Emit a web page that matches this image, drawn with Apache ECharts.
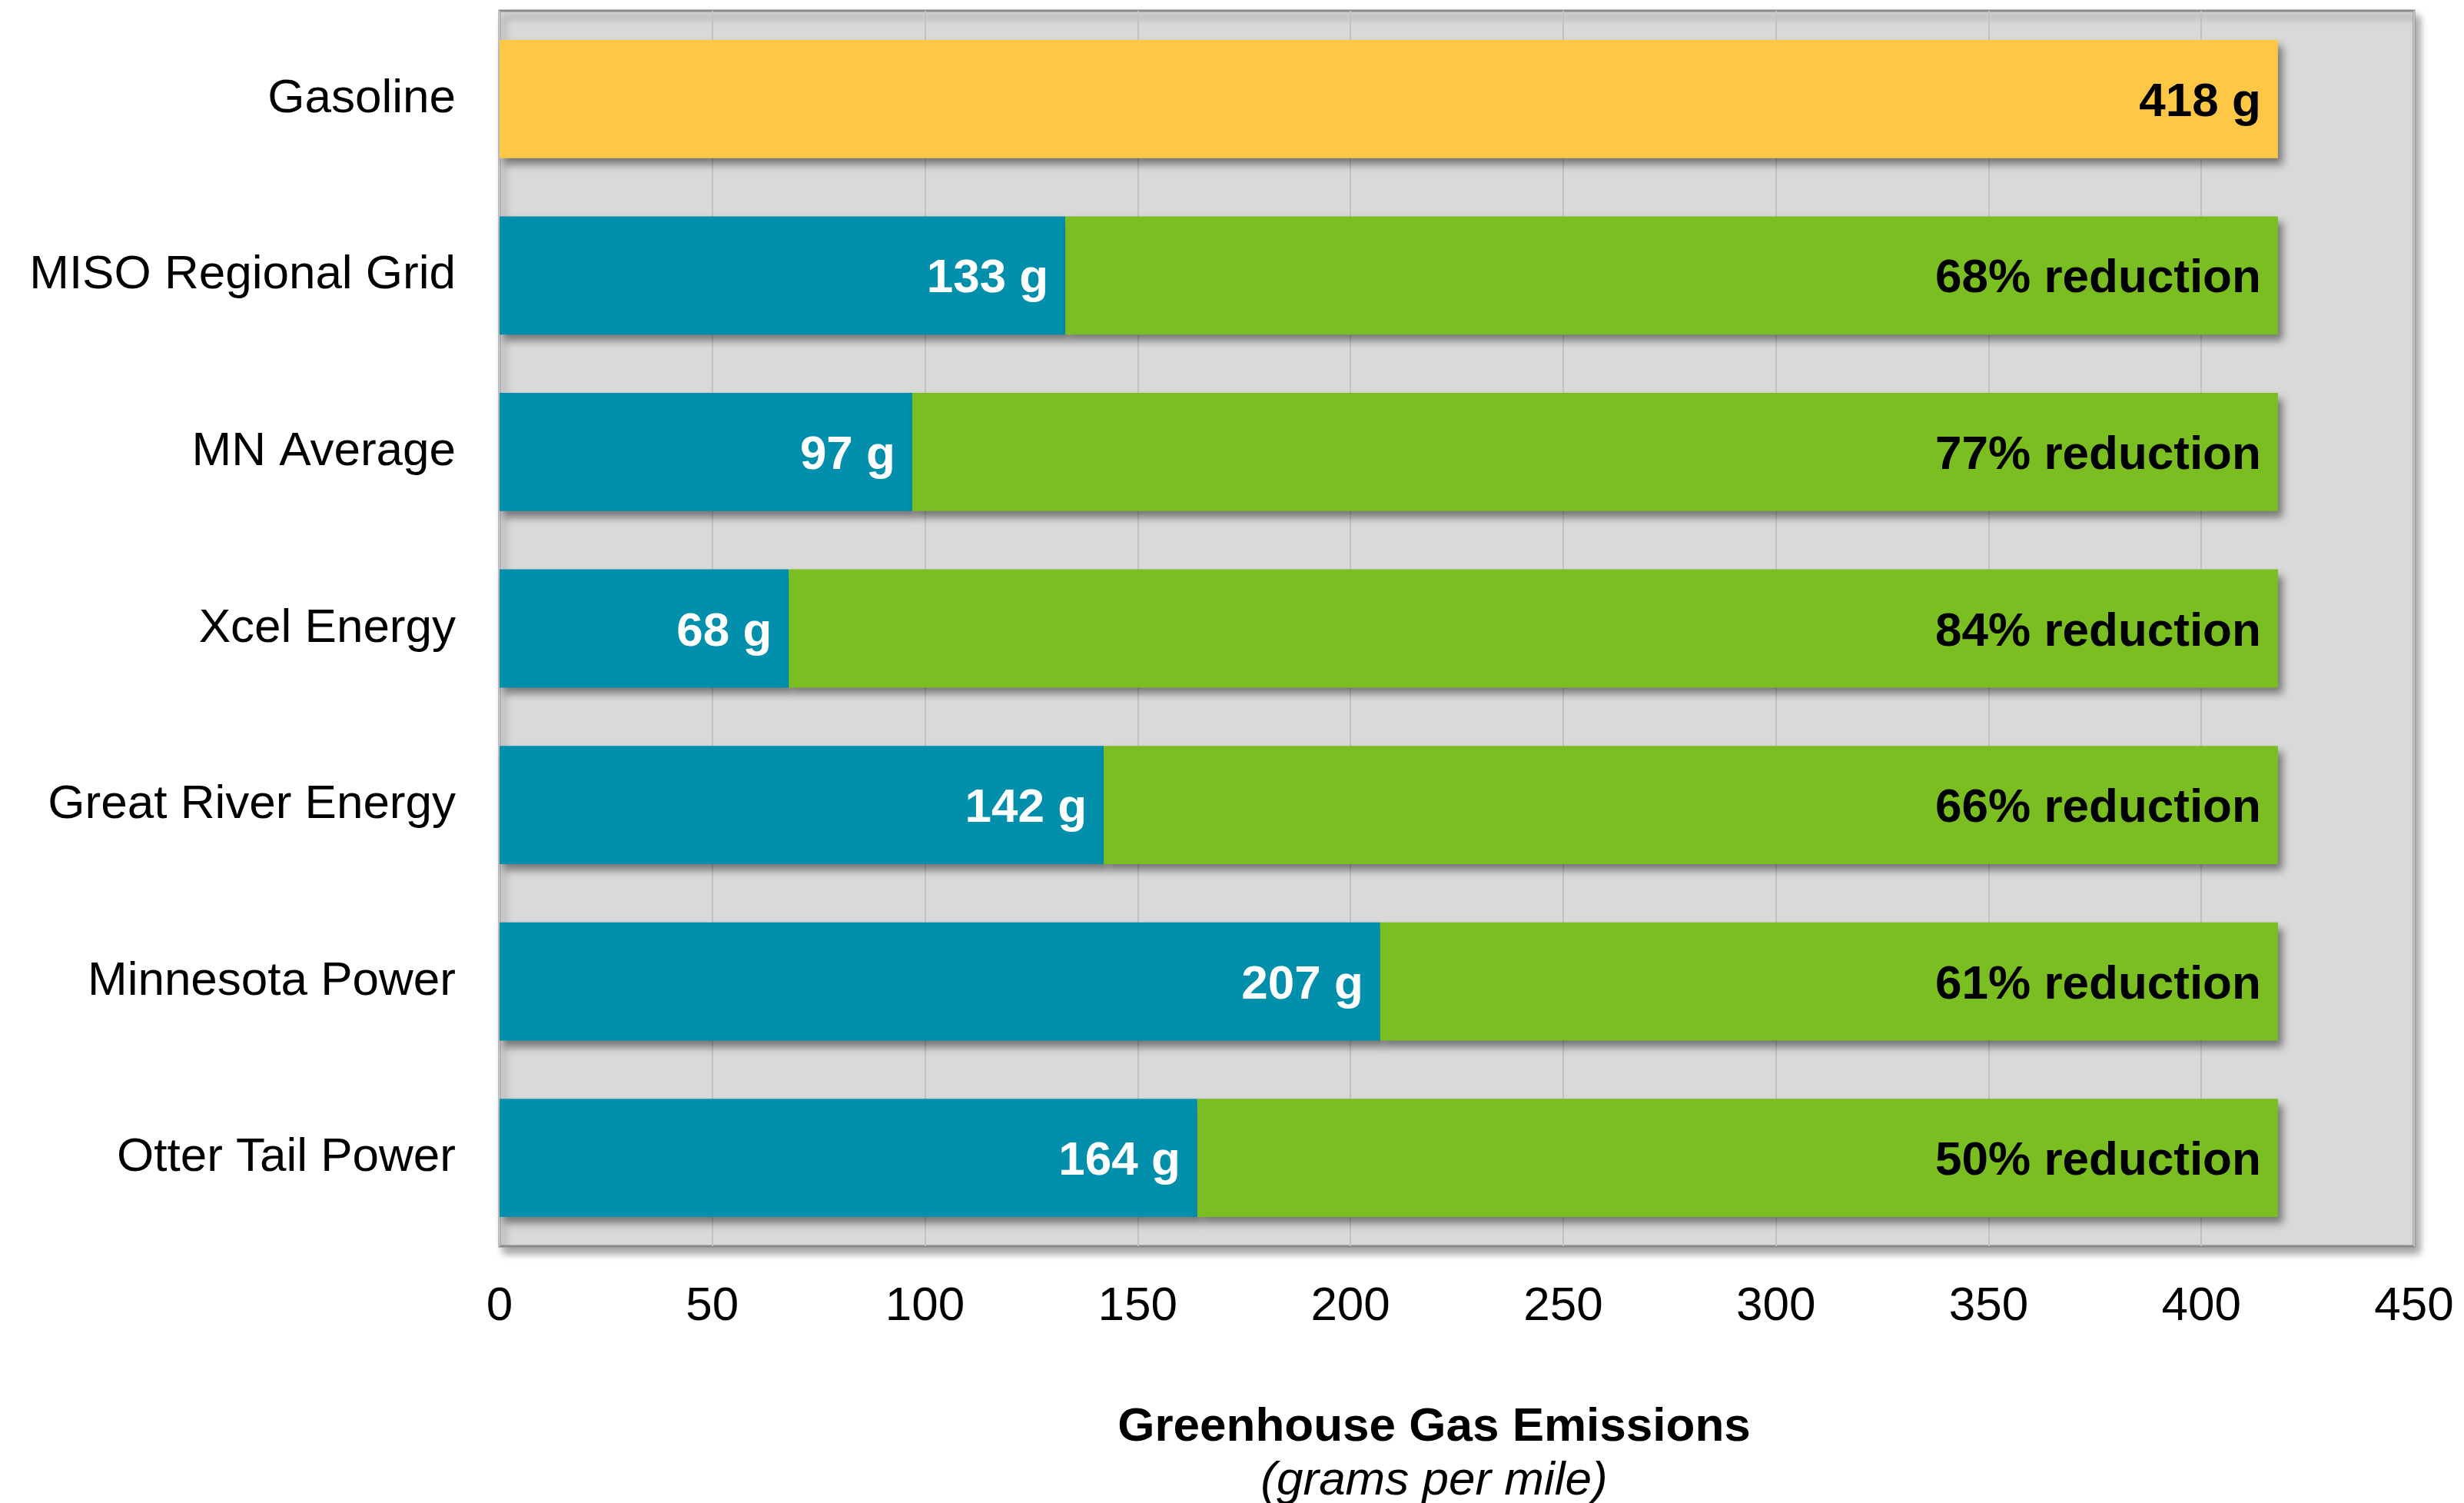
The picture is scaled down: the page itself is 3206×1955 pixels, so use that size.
<!DOCTYPE html>
<html style="height: 100%">
<head>
    <meta charset="utf-8">
    <title>Greenhouse Gas Emissions</title>
</head>
<body style="height: 100%; margin: 0; background: #fff">
<div id="container" style="width: 3206px; height: 1955px"></div>
<script type="text/javascript" src="https://cdn.jsdelivr.net/npm/echarts@6/dist/echarts.min.js"></script>
<script type="text/javascript">
    var categories = ['Gasoline', 'MISO Regional Grid', 'MN Average', 'Xcel Energy',
        'Great River Energy', 'Minnesota Power', 'Otter Tail Power'];
    var gasolineValue = 418;
    var electricValues = [133, 97, 68, 142, 207, 164];
    var reductionLabels = [68, 77, 84, 66, 61, 50];
    var xTicks = [0, 50, 100, 150, 200, 250, 300, 350, 400, 450];

    var font = 'Liberation Sans, Arial, sans-serif';
    var barShadow = {
        shadowBlur: 10,
        shadowOffsetX: 6,
        shadowOffsetY: 8,
        shadowColor: 'rgba(0, 0, 0, 0.45)'
    };

    // first row: gasoline bar, rest: electric part + remaining part
    var blueData = [{
        value: gasolineValue,
        itemStyle: {color: '#FEC745'},
        label: {color: '#000', formatter: gasolineValue + ' g'}
    }];
    var greenData = ['-'];
    for (var i = 0; i < electricValues.length; i++) {
        blueData.push(electricValues[i]);
        greenData.push({
            value: gasolineValue - electricValues[i],
            label: {formatter: reductionLabels[i] + '% reduction'}
        });
    }

    var dom = document.getElementById('container');
    var myChart = echarts.init(dom);

    var option = {
        backgroundColor: '#ffffff',
        animation: false,
        textStyle: {fontFamily: font},
        title: {
            text: 'Greenhouse Gas Emissions',
            subtext: '(grams per mile)',
            left: 1866,
            top: 1826,
            textAlign: 'center',
            itemGap: 8,
            padding: 0,
            textStyle: {
                fontFamily: font,
                fontSize: 62,
                fontWeight: 'bold',
                color: '#000'
            },
            subtextStyle: {
                fontFamily: font,
                fontSize: 62,
                fontStyle: 'italic',
                color: '#000'
            }
        },
        grid: {
            left: 650,
            right: 65,
            top: 14,
            bottom: 334,
            show: true,
            backgroundColor: '#D9D9D9',
            borderColor: '#8a8a8a',
            borderWidth: 3,
            shadowBlur: 10,
            shadowOffsetX: 6,
            shadowOffsetY: 8,
            shadowColor: 'rgba(0, 0, 0, 0.35)'
        },
        xAxis: {
            type: 'value',
            min: xTicks[0],
            max: xTicks[xTicks.length - 1],
            interval: 50,
            axisLine: {show: false},
            axisTick: {show: false},
            splitLine: {
                show: true,
                lineStyle: {color: '#c2c2c2', width: 2}
            },
            axisLabel: {
                color: '#000',
                fontFamily: font,
                fontSize: 62,
                margin: 48
            }
        },
        yAxis: {
            type: 'category',
            data: categories,
            inverse: true,
            axisLine: {show: false},
            axisTick: {show: false},
            splitLine: {show: false},
            axisLabel: {
                color: '#000',
                fontFamily: font,
                fontSize: 62,
                margin: 57,
                padding: [6, 0, 0, 0]
            }
        },
        series: [
            {
                name: 'Electric',
                type: 'bar',
                stack: 'total',
                barCategoryGap: '33%',
                data: blueData,
                itemStyle: Object.assign({color: '#028FAC'}, barShadow),
                label: {
                    show: true,
                    position: 'insideRight',
                    distance: 22,
                    offset: [0, 5],
                    color: '#fff',
                    fontFamily: font,
                    fontSize: 62,
                    fontWeight: 'bold',
                    formatter: '{c} g'
                }
            },
            {
                name: 'Reduction',
                type: 'bar',
                stack: 'total',
                barCategoryGap: '33%',
                data: greenData,
                itemStyle: Object.assign({color: '#7ABE21'}, barShadow),
                label: {
                    show: true,
                    position: 'insideRight',
                    distance: 22,
                    offset: [0, 5],
                    color: '#000',
                    fontFamily: font,
                    fontSize: 62,
                    fontWeight: 'bold'
                }
            }
        ]
    };

    myChart.setOption(option);
</script>
</body>
</html>
